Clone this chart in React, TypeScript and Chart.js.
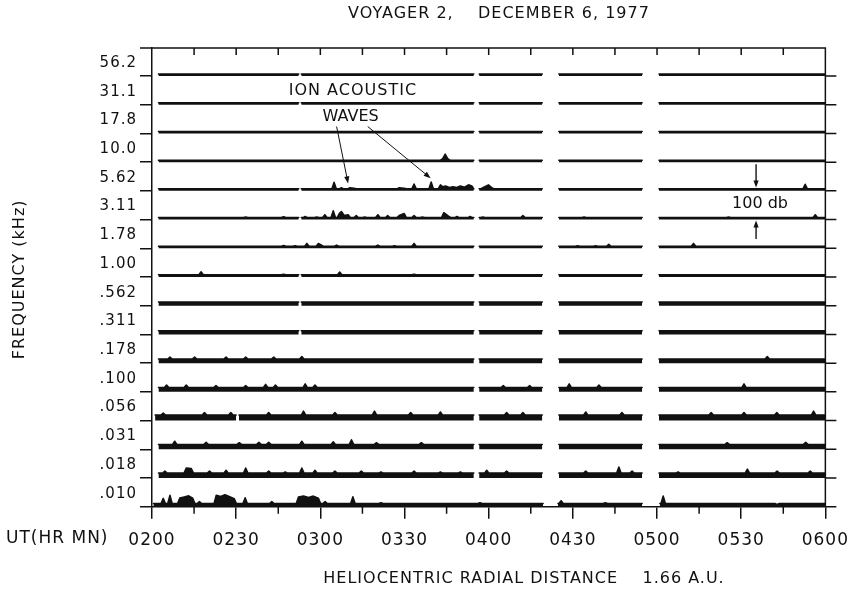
import React, { useEffect, useRef } from 'react';
import { Chart, registerables } from 'chart.js';

Chart.register(...registerables);

// ---------- data ----------
const FREQ_LABELS = ['56.2', '31.1', '17.8', '10.0', '5.62', '3.11', '1.78', '1.00', '.562', '.311', '.178', '.100', '.056', '.031', '.018', '.010'];
const TIME_TICKS = [0, 30, 60, 90, 120, 150, 180, 210, 240]; // minutes after 0200 UT
const TIME_LABELS = ['0200', '0230', '0300', '0330', '0400', '0430', '0500', '0530', '0600'];
const MINOR_TICKS = [15, 45, 75, 105, 135, 165, 195, 225];

// recording intervals (minutes after 0200 UT)
const SEG_FULL = [[2.3, 52.3], [53.2, 114.7], [116.6, 139.1], [145.0, 174.7], [180.7, 240]];
const SEG_NOA = [[2.3, 114.7], [116.6, 139.1], [145.0, 174.7], [180.7, 240]];
const SEG_056 = [[1.1, 30.0], [31.0, 114.7], [116.6, 139.1], [145.0, 174.7], [180.7, 240]];
const SEG_010 = [[0.5, 139.4], [144.7, 174.7], [181.0, 240]];

// noise floor of each channel, dB above its baseline (100 dB = channel spacing)
const FLOOR_DB = [7, 7, 7, 7, 7, 7, 7, 8, 13, 13, 14, 15, 19, 17, 17, 11];

// peaks: [minute, dB above baseline]
const PK_56_2: number[][] = [];
const PK_31_1: number[][] = [];
const PK_17_8: number[][] = [];
const PK_10_0 = [[103.6, 12], [104.5, 28], [105.4, 12]];
const PK_5_62 = [[64.9, 30], [67.5, 11], [70.5, 11], [72.0, 9], [88.1, 11], [89.9, 9], [93.4, 24], [99.5, 31], [102.8, 21], [103.7, 14], [104.6, 17], [106.0, 12], [107.3, 14], [108.6, 12], [109.9, 17], [111.4, 13], [112.8, 21], [114.0, 17], [117.9, 11], [119.9, 21], [121.0, 12], [232.8, 23]];
const PK_3_11 = [[33.4, 9], [46.9, 10], [52.8, 27], [54.6, 11], [58.7, 9], [61.6, 17], [64.6, 31], [66.8, 22], [67.5, 28], [68.5, 14], [69.9, 17], [72.8, 14], [75.8, 9], [80.5, 17], [84.0, 14], [88.1, 14], [89.9, 21], [93.4, 14], [96.4, 9], [104.0, 24], [105.8, 11], [108.7, 11], [113.4, 11], [117.9, 9], [132.2, 14], [154.0, 9], [205.5, 9], [236.4, 17]];
const PK_1_78 = [[46.9, 10], [51.0, 9], [55.2, 17], [59.3, 17], [60.3, 12], [65.8, 11], [80.5, 11], [86.4, 9], [93.4, 17], [151.7, 9], [158.1, 9], [162.8, 14], [193.0, 17]];
const PK_1_00 = [[17.5, 18], [46.9, 10], [66.9, 17], [93.4, 10]];
const PK_562: number[][] = [];
const PK_311: number[][] = [];
const PK_178 = [[6.4, 21], [15.2, 21], [26.4, 21], [33.4, 21], [43.4, 21], [53.4, 23], [219.3, 23]];
const PK_100 = [[5.2, 24], [12.2, 24], [22.8, 22], [33.4, 22], [40.5, 26], [44.0, 24], [54.6, 28], [58.1, 24], [125.2, 22], [134.6, 22], [148.7, 28], [159.3, 24], [211.0, 28]];
const PK_056 = [[4.0, 26], [18.7, 28], [28.1, 28], [41.6, 28], [54.0, 33], [65.2, 28], [79.3, 33], [92.2, 28], [102.8, 30], [126.4, 28], [132.2, 28], [154.6, 30], [167.5, 28], [199.3, 28], [211.0, 28], [222.7, 28], [235.8, 33]];
const PK_031 = [[8.1, 28], [19.3, 24], [31.1, 23], [38.1, 24], [41.6, 24], [53.4, 28], [64.6, 26], [71.1, 33], [80.0, 23], [96.0, 23], [205.0, 23], [233.0, 24]];
const PK_018 = [[4.6, 24], [12.2, 35], [14.0, 33], [20.5, 24], [26.4, 27], [33.4, 35], [41.6, 24], [47.5, 21], [53.4, 35], [58.1, 27], [65.2, 24], [74.6, 24], [81.6, 21], [93.4, 24], [102.8, 21], [109.9, 21], [119.3, 27], [126.4, 24], [154.6, 24], [166.4, 38], [171.1, 24], [187.5, 21], [212.2, 31], [222.8, 24], [234.6, 24]];
const PK_010 = [[4.0, 29], [6.4, 40], [9.9, 30], [11.5, 34], [13.1, 38], [14.5, 30], [16.9, 18], [22.9, 40], [24.5, 36], [26.0, 42], [27.5, 36], [29.3, 28], [33.2, 31], [42.7, 18], [52.2, 34], [54.0, 37], [55.8, 32], [57.5, 37], [59.3, 30], [61.7, 18], [71.6, 35], [81.6, 14], [116.9, 14], [133.4, 11], [145.8, 21], [161.6, 14], [182.2, 37], [193.4, 11], [201.6, 11], [222.8, 8]];

const CHANNEL_PEAKS = [PK_56_2, PK_31_1, PK_17_8, PK_10_0, PK_5_62, PK_3_11, PK_1_78, PK_1_00, PK_562, PK_311, PK_178, PK_100, PK_056, PK_031, PK_018, PK_010];
const CHANNEL_SEGS = [SEG_FULL, SEG_FULL, SEG_NOA, SEG_NOA, SEG_FULL, SEG_FULL, SEG_NOA, SEG_FULL, SEG_FULL, SEG_FULL, SEG_NOA, SEG_NOA, SEG_056, SEG_NOA, SEG_NOA, SEG_010];

// annotations (data coordinates: minutes, channel units)
const NOTE_TEXTS = [
  { text: 'ION ACOUSTIC', t: 71.6, v: 14.48, sp: 1 },
  { text: 'WAVES', t: 70.8, v: 13.56, sp: 0 },
  { text: '100 db', t: 216.7, v: 10.54, sp: 0 },
];
const NOTE_ARROWS = [
  { from: [65.8, 13.24], to: [69.9, 11.26], w: 1 },
  { from: [76.9, 13.24], to: [99.3, 11.44], w: 1 },
  { from: [215.3, 11.93], to: [215.3, 11.12], w: 1.4 },
  { from: [215.3, 9.32], to: [215.3, 9.97], w: 1.4 },
];

// ---------- styling ----------
const INK = '#111';
const FONT = 'DejaVu Sans';
const HALF_W = 0.8;
const JOIN = 2.2;

function buildTrace(base: number, floorDb: number, segs: number[][], peaks: number[][]) {
  const pts: { x: number; y: number | null }[] = [];
  const lvl = base + floorDb / 100;
  segs.forEach(([s, e], k) => {
    if (k > 0) pts.push({ x: (segs[k - 1][1] + s) / 2, y: null });
    const inside = peaks.filter(([m]) => m > s && m < e).sort((a, b) => a[0] - b[0]);
    pts.push({ x: s, y: lvl });
    inside.forEach(([m, db], j) => {
      const prev = inside[j - 1];
      const next = inside[j + 1];
      if (!prev || m - prev[0] > JOIN) pts.push({ x: Math.max(s, m - HALF_W), y: lvl });
      pts.push({ x: m, y: base + db / 100 });
      if (!next || next[0] - m > JOIN) pts.push({ x: Math.min(e, m + HALF_W), y: lvl });
    });
    pts.push({ x: e, y: lvl });
  });
  return pts;
}

const spacingPlugin = {
  id: 'spacing',
  beforeDraw(chart: any) {
    chart.ctx.letterSpacing = '1px';
  },
};

const framePlugin = {
  id: 'frame',
  afterDraw(chart: any) {
    const { ctx, chartArea: a, scales } = chart;
    const xs = scales.x;
    const ys = scales.y;
    ctx.save();
    ctx.strokeStyle = INK;
    ctx.fillStyle = INK;
    ctx.lineWidth = 1.5;
    ctx.beginPath();
    ctx.moveTo(a.left - 12, a.top);
    ctx.lineTo(a.right, a.top);
    ctx.lineTo(a.right, a.bottom);
    [...MINOR_TICKS, ...TIME_TICKS.slice(1, -1)].forEach((m) => {
      const px = xs.getPixelForValue(m);
      ctx.moveTo(px, a.top);
      ctx.lineTo(px, a.top + 7);
    });
    MINOR_TICKS.forEach((m) => {
      const px = xs.getPixelForValue(m);
      ctx.moveTo(px, a.bottom);
      ctx.lineTo(px, a.bottom + 7);
    });
    FREQ_LABELS.forEach((_, i) => {
      const py = ys.getPixelForValue(15 - i);
      ctx.moveTo(a.right, py);
      ctx.lineTo(a.right + 11, py);
    });
    ctx.stroke();

    // arrows
    NOTE_ARROWS.forEach(({ from, to, w }) => {
      const x0 = xs.getPixelForValue(from[0]);
      const y0 = ys.getPixelForValue(from[1]);
      const x1 = xs.getPixelForValue(to[0]);
      const y1 = ys.getPixelForValue(to[1]);
      const ang = Math.atan2(y1 - y0, x1 - x0);
      const L = 7;
      const H = 2.6;
      ctx.lineWidth = w;
      ctx.beginPath();
      ctx.moveTo(x0, y0);
      ctx.lineTo(x1 - Math.cos(ang) * L * 0.8, y1 - Math.sin(ang) * L * 0.8);
      ctx.stroke();
      ctx.beginPath();
      ctx.moveTo(x1, y1);
      ctx.lineTo(x1 - Math.cos(ang) * L - Math.sin(ang) * H, y1 - Math.sin(ang) * L + Math.cos(ang) * H);
      ctx.lineTo(x1 - Math.cos(ang) * L + Math.sin(ang) * H, y1 - Math.sin(ang) * L - Math.cos(ang) * H);
      ctx.closePath();
      ctx.fill();
    });

    ctx.textAlign = 'center';
    ctx.textBaseline = 'middle';
    ctx.font = `16px "${FONT}"`;
    NOTE_TEXTS.forEach(({ text, t, v, sp }) => {
      ctx.letterSpacing = `${sp}px`;
      ctx.fillText(text, xs.getPixelForValue(t), ys.getPixelForValue(v));
    });

    // titles
    ctx.letterSpacing = '1px';
    ctx.font = `16px "${FONT}"`;
    ctx.fillText('VOYAGER 2,    DECEMBER 6, 1977', 499, 14);
    ctx.fillText('HELIOCENTRIC RADIAL DISTANCE    1.66 A.U.', 524, 579);
    ctx.textAlign = 'left';
    ctx.font = `17px "${FONT}"`;
    ctx.fillText('UT(HR MN)', 6, 539);
    ctx.save();
    ctx.translate(20, (a.top + a.bottom) / 2 + 2);
    ctx.rotate(-Math.PI / 2);
    ctx.textAlign = 'center';
    ctx.font = `16px "${FONT}"`;
    ctx.fillText('FREQUENCY (kHz)', 0, 0);
    ctx.restore();
    ctx.restore();
  },
};

export default function App() {
  const ref = useRef<HTMLCanvasElement | null>(null);
  useEffect(() => {
    document.body.style.margin = '0';
    document.body.style.background = '#fff';
    const canvas = ref.current;
    if (!canvas) return;
    Chart.defaults.font.family = FONT;
    Chart.defaults.color = INK;

    const datasets = FREQ_LABELS.map((lab, i) => {
      const base = 15 - i;
      return {
        label: lab,
        data: buildTrace(base, FLOOR_DB[i], CHANNEL_SEGS[i], CHANNEL_PEAKS[i]),
        borderColor: INK,
        backgroundColor: INK,
        borderWidth: 1.5,
        pointRadius: 0,
        tension: 0,
        spanGaps: false,
        fill: { value: base },
        borderJoinStyle: 'round',
        borderCapStyle: 'round',
        clip: 6,
      };
    });

    const chart = new Chart(canvas, {
      type: 'line',
      data: { datasets } as any,
      options: {
        responsive: false,
        animation: false,
        events: [],
        layout: { padding: { top: 48, right: 27, bottom: 0, left: 0 } },
        plugins: { legend: { display: false }, tooltip: { enabled: false }, title: { display: false } },
        scales: {
          x: {
            type: 'linear',
            min: 0,
            max: 240,
            afterBuildTicks: (s: any) => {
              s.ticks = TIME_TICKS.map((v) => ({ value: v }));
            },
            afterFit: (s: any) => {
              s.height = 82.3;
            },
            ticks: {
              autoSkip: false,
              maxRotation: 0,
              padding: 12,
              color: INK,
              font: { family: FONT, size: 17 },
              callback: (_v: any, i: number) => TIME_LABELS[i],
            },
            grid: { drawOnChartArea: false, drawTicks: true, tickLength: 12, color: INK, lineWidth: 1.5 },
            border: { display: true, color: INK, width: 1.5 },
          },
          y: {
            type: 'linear',
            min: 0,
            max: 15.975,
            afterBuildTicks: (s: any) => {
              s.ticks = FREQ_LABELS.map((_, i) => ({ value: i }));
            },
            afterFit: (s: any) => {
              s.width = 152;
            },
            ticks: {
              autoSkip: false,
              padding: 3,
              labelOffset: -13,
              color: INK,
              font: { family: FONT, size: 15 },
              callback: (v: any) => FREQ_LABELS[15 - Math.round(v)] ?? '',
            },
            grid: { drawOnChartArea: false, drawTicks: true, tickLength: 12, color: INK, lineWidth: 1.5 },
            border: { display: true, color: INK, width: 1.5 },
          },
        },
      } as any,
      plugins: [spacingPlugin, framePlugin],
    });
    return () => chart.destroy();
  }, []);

  return (
    <div style={{ width: 859, height: 589, background: '#fff' }}>
      <canvas ref={ref} width={859} height={589} style={{ display: 'block', width: 859, height: 589 }} />
    </div>
  );
}
